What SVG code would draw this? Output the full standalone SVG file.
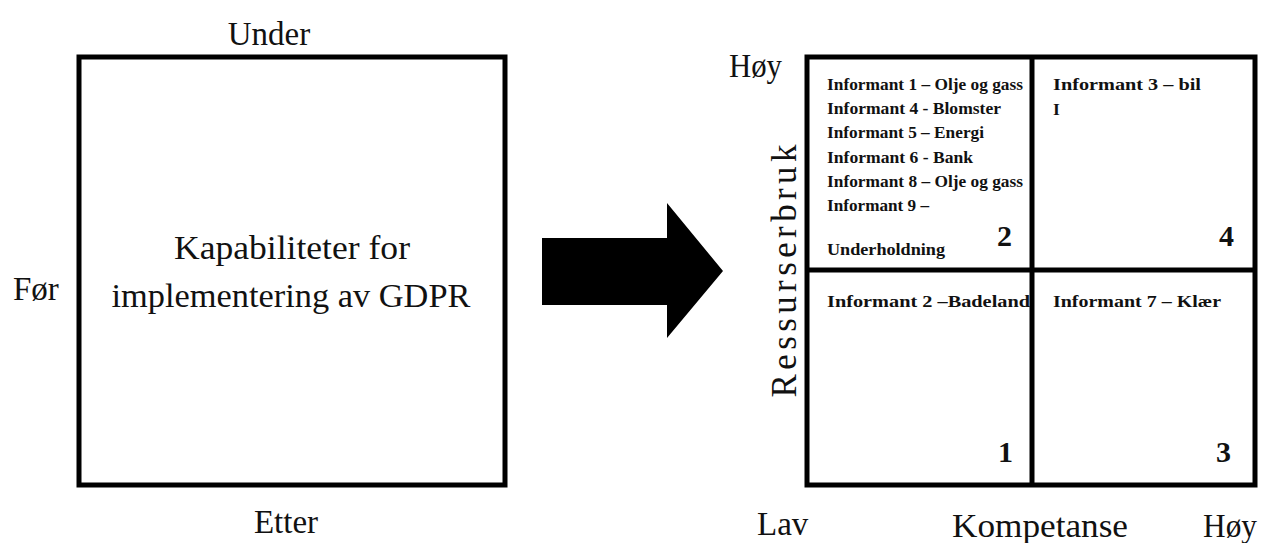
<svg xmlns="http://www.w3.org/2000/svg" width="1261" height="543" viewBox="0 0 1261 543">
<style>
.lbl{font-family:"Liberation Serif",serif;font-size:33px;fill:#111}
.mid{font-family:"Liberation Serif",serif;font-size:34px;fill:#111}
.q{font-family:"Liberation Serif",serif;font-weight:bold;font-size:17.5px;fill:#111}
.num{font-family:"Liberation Serif",serif;font-weight:bold;font-size:30px;fill:#111}
.box{fill:#fff;stroke:#000;stroke-width:5}
.ln{stroke:#000;stroke-width:5}
</style>
<rect width="1261" height="543" fill="#fff"/>
<g id="left-box">
<rect class="box" x="79" y="57" width="426" height="428"/>
<text class="mid" x="292" y="259" text-anchor="middle" textLength="236" lengthAdjust="spacingAndGlyphs">Kapabiliteter for</text>
<text class="mid" x="291" y="307" text-anchor="middle" textLength="359" lengthAdjust="spacingAndGlyphs">implementering av GDPR</text>
</g>
<g id="left-labels">
<text class="lbl" x="269" y="45" text-anchor="middle">Under</text>
<text class="lbl" x="13" y="300">Før</text>
<text class="lbl" x="286" y="533" text-anchor="middle">Etter</text>
</g>
<g id="connectors">
<polygon points="542,238 667,238 667,203 723,271 667,338 667,305 542,305" fill="#000"/>
</g>
<g id="grid">
<rect class="box" x="807" y="57" width="448" height="428"/>
<line class="ln" x1="1032" y1="57" x2="1032" y2="485"/>
<line class="ln" x1="807" y1="270" x2="1255" y2="270"/>
</g>
<g id="q2">
<text class="q" x="827" y="90" textLength="196" lengthAdjust="spacingAndGlyphs">Informant 1 – Olje og gass</text>
<text class="q" x="827" y="114" textLength="174" lengthAdjust="spacingAndGlyphs">Informant 4 - Blomster</text>
<text class="q" x="827" y="138" textLength="157" lengthAdjust="spacingAndGlyphs">Informant 5 – Energi</text>
<text class="q" x="827" y="163" textLength="146" lengthAdjust="spacingAndGlyphs">Informant 6 - Bank</text>
<text class="q" x="827" y="187" textLength="196" lengthAdjust="spacingAndGlyphs">Informant 8 – Olje og gass</text>
<text class="q" x="827" y="211" textLength="102" lengthAdjust="spacingAndGlyphs">Informant 9 –</text>
<text class="q" x="827" y="255" textLength="118" lengthAdjust="spacingAndGlyphs">Underholdning</text>
<text class="num" x="1012" y="246" text-anchor="end">2</text>
</g>
<g id="q4">
<text class="q" x="1053" y="90" textLength="148" lengthAdjust="spacingAndGlyphs">Informant 3 – bil</text>
<text class="q" x="1053" y="115">I</text>
<text class="num" x="1234" y="246" text-anchor="end">4</text>
</g>
<g id="q1">
<text class="q" x="827" y="307" textLength="203" lengthAdjust="spacingAndGlyphs">Informant 2 –Badeland</text>
<text class="num" x="1013" y="462" text-anchor="end">1</text>
</g>
<g id="q3">
<text class="q" x="1053" y="307" textLength="168" lengthAdjust="spacingAndGlyphs">Informant 7 – Klær</text>
<text class="num" x="1231" y="462" text-anchor="end">3</text>
</g>
<g id="axis-labels">
<text class="lbl" x="729" y="77" textLength="53" lengthAdjust="spacingAndGlyphs">Høy</text>
<text class="lbl" style="font-size:35px" transform="translate(796,271) rotate(-90)" text-anchor="middle" textLength="253" lengthAdjust="spacing">Ressurserbruk</text>
<text class="lbl" x="757" y="535">Lav</text>
<text class="lbl" x="952" y="537" textLength="176" lengthAdjust="spacingAndGlyphs">Kompetanse</text>
<text class="lbl" x="1203" y="537" textLength="54" lengthAdjust="spacingAndGlyphs">Høy</text>
</g>
</svg>
